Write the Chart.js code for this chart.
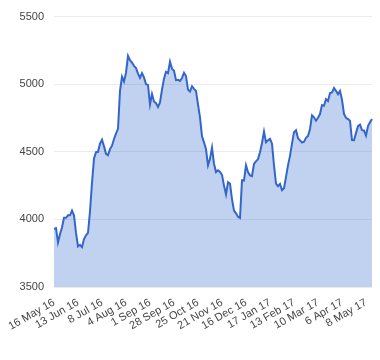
<!DOCTYPE html>
<html>
<head>
<meta charset="utf-8">
<script src="https://cdn.jsdelivr.net/npm/chart.js@4.4.1/dist/chart.umd.min.js"></script>
<style>
  html, body { margin: 0; padding: 0; background: #fff; }
  #wrap { width: 380px; height: 360px; }
</style>
</head>
<body>
<div id="wrap"><canvas id="lineChart"></canvas></div>
<script>
// tick labels shown along the x axis, one every 12 points
const tickLabels = [
  "16 May 16", "13 Jun 16", "8 Jul 16", "4 Aug 16", "1 Sep 16", "28 Sep 16",
  "25 Oct 16", "21 Nov 16", "16 Dec 16", "17 Jan 17", "13 Feb 17", "10 Mar 17",
  "6 Apr 17", "8 May 17",
];
const tickEvery = 12;

// closing values
const values = [
  3930, 3935, 3830, 3890, 3940, 4012, 4012, 4030, 4030, 4065,
  4030, 3900, 3800, 3812, 3795, 3855, 3882, 3900, 4060, 4270,
  4450, 4497, 4500, 4560, 4590, 4540, 4485, 4475, 4520, 4545,
  4595, 4635, 4670, 4950, 5055, 5020, 5085, 5210, 5178, 5160,
  5136, 5120, 5078, 5047, 5082, 5050, 5000, 4995, 4850, 4927,
  4872, 4860, 4832, 4865, 4960, 5040, 5092, 5082, 5166, 5115,
  5100, 5030, 5032, 5024, 5045, 5085, 5060, 4960, 4946, 4985,
  4965, 4950, 4850, 4755, 4615, 4570, 4520, 4400, 4448, 4530,
  4412, 4350, 4363, 4351, 4330, 4250, 4185, 4275, 4265, 4150,
  4065, 4045, 4020, 4010, 4290, 4289, 4400, 4350, 4326, 4320,
  4410, 4430, 4446, 4497, 4565, 4650, 4571, 4585, 4596, 4560,
  4400, 4265, 4245, 4262, 4216, 4230, 4314, 4400, 4470, 4560,
  4645, 4660, 4600, 4584, 4568, 4575, 4603, 4617, 4669, 4770,
  4755, 4730, 4752, 4779, 4845, 4840, 4890, 4875, 4935, 4939,
  4972, 4951, 4926, 4951, 4885, 4780, 4752, 4742, 4730, 4586,
  4585, 4640, 4690, 4701, 4660, 4658, 4620, 4690, 4718, 4742,
];

const yTicks = [3500, 4000, 4500, 5000, 5500];

const labels = values.map((v, i) =>
  i % tickEvery === 0 ? tickLabels[i / tickEvery] || "" : ""
);

const font = { family: "'Liberation Sans', Arial, sans-serif", size: 11 };

new Chart(document.getElementById("lineChart"), {
  type: "line",
  data: {
    labels: labels,
    datasets: [
      {
        data: values,
        borderColor: "#3366cc",
        borderWidth: 2,
        backgroundColor: "rgba(51, 102, 204, 0.3)",
        fill: "start",
        pointRadius: 0,
        tension: 0,
      },
    ],
  },
  options: {
    responsive: true,
    maintainAspectRatio: false,
    animation: false,
    layout: { padding: { top: 15, right: 8, left: 0, bottom: 0 } },
    plugins: { legend: { display: false }, tooltip: { enabled: false } },
    scales: {
      x: {
        grid: { display: false, drawTicks: false },
        border: { display: false },
        ticks: {
          autoSkip: false,
          minRotation: 30,
          maxRotation: 30,
          padding: 9,
          color: "#444",
          font: font,
        },
        afterFit: (scale) => {
          scale.height = 73;
          scale.paddingRight = 0;
        },
      },
      y: {
        min: yTicks[0],
        max: yTicks[yTicks.length - 1],
        grid: { color: "#ebebeb", drawTicks: false },
        border: { display: false },
        ticks: {
          stepSize: 500,
          padding: 10,
          color: "#444",
          font: font,
          callback: (v) => String(v),
        },
        afterFit: (scale) => {
          scale.width = 54;
        },
      },
    },
  },
});
</script>
</body>
</html>
